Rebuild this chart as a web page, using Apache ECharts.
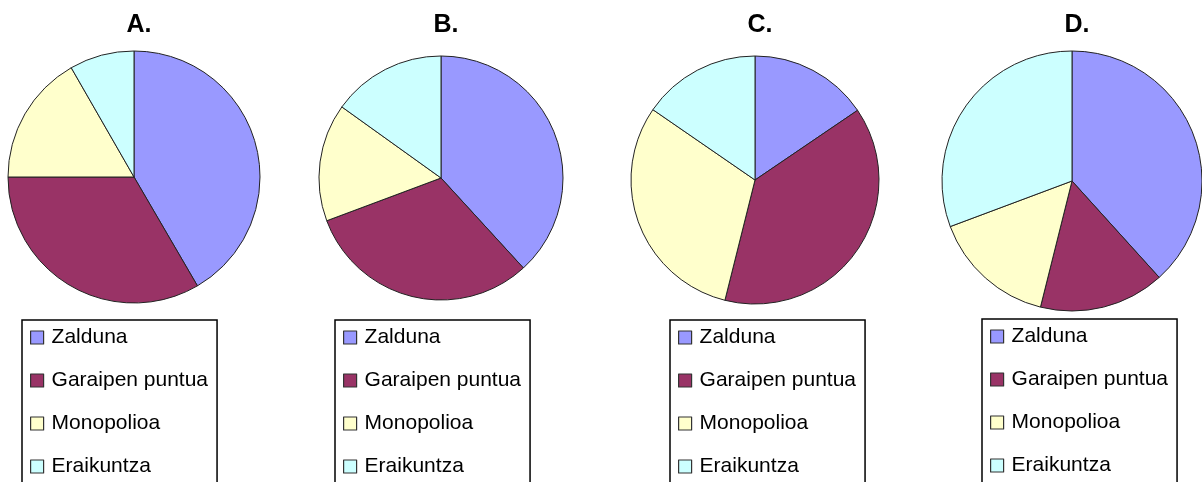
<!DOCTYPE html>
<html>
<head>
<meta charset="utf-8">
<script src="https://cdn.jsdelivr.net/npm/echarts@6/dist/echarts.min.js"></script>
<style>
  html, body { margin: 0; padding: 0; background: #fff; }
  #chart { width: 1202px; height: 482px; }
</style>
</head>
<body>
<div id="chart"></div>
<script>
// kategoriak eta balioak (irakurritako ehunekoak)
const categories = ['Zalduna', 'Garaipen puntua', 'Monopolioa', 'Eraikuntza'];
const titles = ['A.', 'B.', 'C.', 'D.'];
const valuesA = [41.6, 33.4, 16.7, 8.3];
const valuesB = [38.2, 31.1, 15.6, 15.1];
const valuesC = [15.5, 38.4, 30.7, 15.4];
const valuesD = [38.3, 15.6, 15.4, 30.7];
const colors = ['#9999FF', '#993366', '#FFFFCC', '#CCFFFF'];

const allValues = [valuesA, valuesB, valuesC, valuesD];
// pie center / radius, legend box position (px)
const centers = [[134, 177], [441, 178], [755, 180], [1072, 181]];
const radii = [126, 122, 124, 130];
const legendPos = [[22, 320], [335, 320], [670, 320], [982, 319]];

const myChart = echarts.init(document.getElementById('chart'));

const option = {
  animation: false,
  color: colors,
  title: titles.map(function (t, i) {
    return {
      text: t,
      left: centers[i][0],
      top: 8,
      textAlign: 'center',
      textStyle: { fontFamily: 'Liberation Sans, Arial', fontSize: 25, fontWeight: 'bold', color: '#000' }
    };
  }),
  legend: legendPos.map(function (p) {
    return {
      orient: 'vertical',
      left: p[0],
      top: p[1],
      height: 400,
      data: categories,
      icon: 'rect',
      itemWidth: 13,
      itemHeight: 13,
      itemGap: 22,
      itemStyle: { borderColor: '#333', borderWidth: 1.2 },
      padding: [7, 9, 40, 8],
      backgroundColor: '#fff',
      borderColor: '#000',
      borderWidth: 1.5,
      selectedMode: false,
      textStyle: { fontFamily: 'Liberation Sans, Arial', fontSize: 21, color: '#000', padding: [0, 0, 0, 3] }
    };
  }),
  series: allValues.map(function (vals, i) {
    return {
      type: 'pie',
      center: centers[i],
      radius: radii[i],
      startAngle: 90,
      clockwise: true,
      label: { show: false },
      labelLine: { show: false },
      emphasis: { disabled: true },
      itemStyle: { borderColor: '#222', borderWidth: 1 },
      data: categories.map(function (c, k) {
        return { name: c, value: vals[k] };
      })
    };
  })
};

myChart.setOption(option);
</script>
</body>
</html>
